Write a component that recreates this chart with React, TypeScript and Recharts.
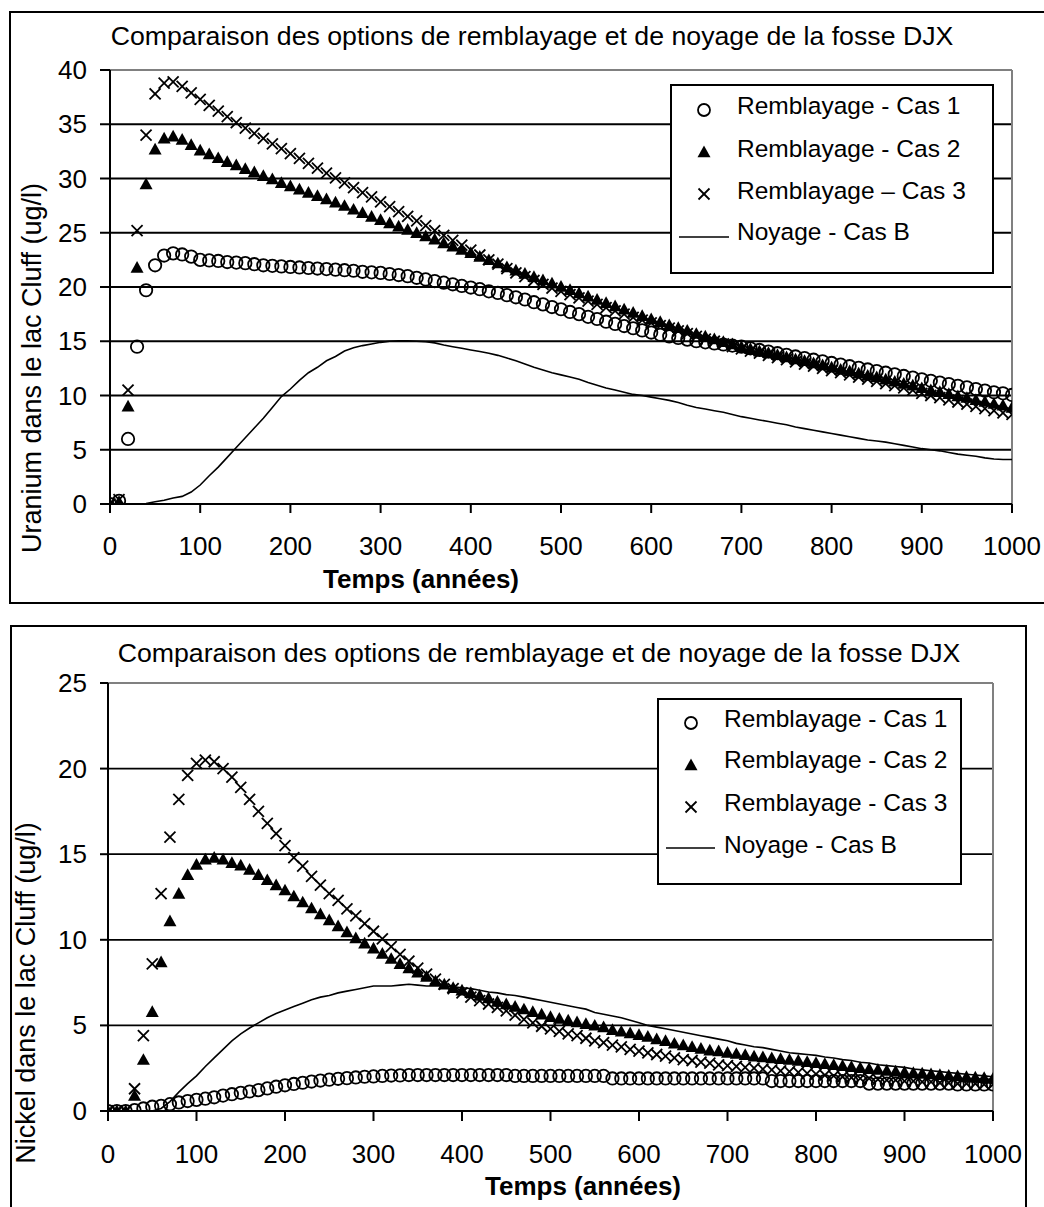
import React from 'react';
import {
  ComposedChart,
  Scatter,
  Line,
  XAxis,
  YAxis,
  CartesianGrid,
  ReferenceLine,
  Legend,
  Label,
} from 'recharts';

const FONT = '"Liberation Sans", Arial, Helvetica, sans-serif';

const TIME = [
  0, 10, 20, 30, 40, 50, 60, 70, 80, 90,
  100, 110, 120, 130, 140, 150, 160, 170, 180, 190,
  200, 210, 220, 230, 240, 250, 260, 270, 280, 290,
  300, 310, 320, 330, 340, 350, 360, 370, 380, 390,
  400, 410, 420, 430, 440, 450, 460, 470, 480, 490,
  500, 510, 520, 530, 540, 550, 560, 570, 580, 590,
  600, 610, 620, 630, 640, 650, 660, 670, 680, 690,
  700, 710, 720, 730, 740, 750, 760, 770, 780, 790,
  800, 810, 820, 830, 840, 850, 860, 870, 880, 890,
  900, 910, 920, 930, 940, 950, 960, 970, 980, 990,
  1000,
];

// Uranium (ug/l)
const U_CAS1 = [
  0, 0.3, 6.0, 14.5, 19.7, 22.0, 22.9, 23.1, 23.0, 22.8,
  22.5, 22.45, 22.4, 22.3, 22.25, 22.2, 22.1, 22.0, 21.95, 21.9,
  21.85, 21.8, 21.75, 21.7, 21.65, 21.6, 21.55, 21.5, 21.4, 21.35,
  21.3, 21.2, 21.1, 21.0, 20.85, 20.7, 20.55, 20.4, 20.25, 20.1,
  19.95, 19.8, 19.6, 19.45, 19.25, 19.05, 18.85, 18.6, 18.4, 18.15,
  17.95, 17.7, 17.5, 17.25, 17.05, 16.8, 16.6, 16.4, 16.2, 16.0,
  15.8, 15.6, 15.45, 15.3, 15.15, 15.0, 14.9, 14.8, 14.7, 14.6,
  14.5, 14.35, 14.2, 14.05, 13.9, 13.75, 13.6, 13.45, 13.3, 13.15,
  13.0, 12.85, 12.7, 12.55, 12.4, 12.25, 12.1, 11.95, 11.8, 11.65,
  11.5, 11.35, 11.2, 11.05, 10.9, 10.75, 10.6, 10.45, 10.3, 10.2,
  10.05,
];
const U_CAS2 = [
  0, 0.2, 9.0, 21.8, 29.5, 32.7, 33.7, 33.9, 33.6, 33.1,
  32.6, 32.25, 31.9, 31.55, 31.25, 30.9, 30.6, 30.25, 29.95, 29.6,
  29.3, 29.0, 28.7, 28.4, 28.1, 27.8, 27.5, 27.15, 26.85, 26.5,
  26.2, 25.9, 25.6, 25.3, 25.0, 24.7, 24.4, 24.05, 23.75, 23.45,
  23.15, 22.8, 22.5, 22.2, 21.85, 21.55, 21.25, 20.95, 20.65, 20.35,
  20.05, 19.75, 19.45, 19.15, 18.85, 18.55, 18.25, 17.95, 17.65, 17.35,
  17.05, 16.8, 16.5, 16.25, 16.0, 15.7, 15.45, 15.2, 14.95, 14.75,
  14.5, 14.3, 14.1, 13.95, 13.75, 13.55, 13.35, 13.2, 13.0, 12.8,
  12.6, 12.4, 12.25, 12.05, 11.85, 11.7, 11.5, 11.3, 11.1, 10.95,
  10.7, 10.5, 10.35, 10.15, 9.95, 9.8, 9.6, 9.45, 9.25, 9.1,
  8.9,
];
const U_CAS3 = [
  0, 0.4, 10.5, 25.2, 34.0, 37.8, 38.8, 38.9, 38.5, 37.9,
  37.3, 36.75, 36.2, 35.7, 35.15, 34.65, 34.15, 33.7, 33.2, 32.75,
  32.3, 31.85, 31.4, 30.95, 30.5, 30.05, 29.6, 29.15, 28.7, 28.3,
  27.85, 27.4, 26.95, 26.5, 26.1, 25.65, 25.2, 24.75, 24.3, 23.85,
  23.4, 22.95, 22.5, 22.1, 21.7, 21.3, 20.95, 20.6, 20.25, 19.9,
  19.6, 19.3, 19.0, 18.7, 18.4, 18.1, 17.8, 17.5, 17.2, 16.95,
  16.7, 16.45, 16.2, 15.95, 15.7, 15.45, 15.2, 15.0, 14.75, 14.5,
  14.3, 14.1, 13.9, 13.7, 13.5, 13.3, 13.1, 12.9, 12.7, 12.5,
  12.3, 12.1, 11.9, 11.7, 11.5, 11.3, 11.1, 10.9, 10.7, 10.5,
  10.2, 10.0, 9.8, 9.6, 9.4, 9.2, 9.0, 8.8, 8.6, 8.4,
  8.25,
];
const U_NOYAGE = [
  0, 0, 0, 0, 0.05, 0.2, 0.35, 0.55, 0.7, 1.1,
  1.75, 2.6, 3.4, 4.3, 5.2, 6.1, 7.0, 7.9, 8.9, 9.9,
  10.6, 11.4, 12.1, 12.6, 13.2, 13.6, 14.1, 14.4, 14.6, 14.75,
  14.9, 15.0, 15.05, 15.05, 15.0, 14.95, 14.85, 14.65, 14.5, 14.35,
  14.2, 14.05, 13.9, 13.7, 13.45, 13.2, 12.9, 12.6, 12.35, 12.1,
  11.9, 11.7, 11.5, 11.2, 10.95, 10.7, 10.5, 10.3, 10.1, 10.0,
  9.85, 9.7, 9.55, 9.35, 9.1, 8.9, 8.75, 8.6, 8.45, 8.25,
  8.05, 7.9, 7.75, 7.6, 7.45, 7.3, 7.1, 6.95, 6.8, 6.65,
  6.5, 6.35, 6.2, 6.05, 5.9, 5.8, 5.7, 5.55, 5.4, 5.25,
  5.1, 5.0, 4.9, 4.75, 4.6, 4.5, 4.4, 4.25, 4.15, 4.1,
  4.1,
];

// Nickel (ug/l)
const N_CAS1 = [
  0, 0, 0, 0.05, 0.15, 0.25, 0.3, 0.4, 0.5, 0.58,
  0.65, 0.72, 0.8, 0.9, 0.98, 1.06, 1.14, 1.22, 1.32, 1.42,
  1.5, 1.58, 1.65, 1.72, 1.78, 1.83, 1.88, 1.92, 1.96, 2.0,
  2.02, 2.05, 2.07, 2.08, 2.1, 2.1, 2.1, 2.1, 2.1, 2.1,
  2.1, 2.1, 2.1, 2.1, 2.1, 2.1, 2.05, 2.05, 2.05, 2.05,
  2.05, 2.05, 2.05, 2.05, 2.05, 2.05, 2.05, 1.9, 1.9, 1.9,
  1.9, 1.9, 1.9, 1.9, 1.9, 1.9, 1.9, 1.9, 1.9, 1.9,
  1.9, 1.9, 1.9, 1.9, 1.9, 1.75, 1.75, 1.75, 1.75, 1.75,
  1.75, 1.75, 1.75, 1.75, 1.75, 1.75, 1.6, 1.6, 1.6, 1.6,
  1.6, 1.6, 1.6, 1.6, 1.6, 1.6, 1.55, 1.55, 1.55, 1.55,
  1.55,
];
const N_CAS2 = [
  0, 0, 0, 0.9, 3.0, 5.8, 8.7, 11.1, 12.7, 13.8,
  14.4, 14.7, 14.8, 14.7, 14.5, 14.35, 14.1, 13.8, 13.5, 13.2,
  12.9, 12.55, 12.2, 11.85, 11.5, 11.15, 10.8, 10.45, 10.1, 9.8,
  9.5, 9.2, 8.9, 8.6, 8.35, 8.1, 7.85, 7.6, 7.4, 7.2,
  7.05, 6.9, 6.75, 6.6, 6.4, 6.25, 6.1, 5.95, 5.8, 5.65,
  5.5, 5.4, 5.3, 5.2, 5.1, 5.0, 4.9, 4.75, 4.65, 4.55,
  4.45, 4.35, 4.2, 4.1, 3.95, 3.85, 3.75, 3.65, 3.55, 3.5,
  3.42, 3.35, 3.28, 3.2, 3.15, 3.1, 3.05, 3.0, 2.95, 2.88,
  2.82, 2.76, 2.7, 2.64, 2.58, 2.52, 2.47, 2.42, 2.37, 2.32,
  2.28, 2.24, 2.2, 2.16, 2.12, 2.08, 2.04, 2.0, 1.97, 1.94,
  1.9,
];
const N_CAS3 = [
  0, 0, 0, 1.3, 4.4, 8.6, 12.7, 16.0, 18.2, 19.6,
  20.3, 20.5, 20.4, 20.0, 19.5, 18.9, 18.2, 17.5, 16.8, 16.2,
  15.5, 14.8, 14.3, 13.7, 13.2, 12.7, 12.3, 11.8, 11.4, 10.95,
  10.5, 10.05, 9.6, 9.15, 8.75, 8.35, 8.0, 7.7, 7.4, 7.15,
  6.9, 6.65, 6.45, 6.25, 6.05, 5.85, 5.6, 5.35, 5.15, 4.95,
  4.8, 4.65, 4.5, 4.4, 4.25, 4.1, 4.0, 3.85, 3.75, 3.6,
  3.5, 3.4, 3.3, 3.2, 3.1, 3.0, 2.95, 2.85, 2.8, 2.7,
  2.65, 2.6, 2.55, 2.5, 2.45, 2.4, 2.35, 2.3, 2.25, 2.2,
  2.15, 2.1, 2.05, 2.0, 1.95, 1.9, 1.9, 1.85, 1.8, 1.8,
  1.75, 1.75, 1.7, 1.7, 1.65, 1.65, 1.6, 1.6, 1.6, 1.55,
  1.55,
];
const N_NOYAGE = [
  0, 0, 0, 0, 0, 0, 0.15, 0.55, 1.1, 1.6,
  2.05, 2.6, 3.1, 3.6, 4.1, 4.5, 4.85, 5.15, 5.45, 5.7,
  5.9, 6.1, 6.3, 6.5, 6.65, 6.75, 6.9, 7.0, 7.1, 7.2,
  7.3, 7.3, 7.3, 7.35, 7.4, 7.35, 7.3, 7.3, 7.3, 7.25,
  7.2, 7.15, 7.05, 6.95, 6.9, 6.8, 6.75, 6.65, 6.55, 6.45,
  6.35, 6.25, 6.15, 6.05, 5.95, 5.75, 5.65, 5.55, 5.45, 5.3,
  5.15, 5.0, 4.9, 4.8, 4.7, 4.6, 4.5, 4.4, 4.3, 4.2,
  4.1, 3.95, 3.85, 3.75, 3.7, 3.6, 3.5, 3.4, 3.35, 3.3,
  3.25, 3.15, 3.1, 3.0, 2.95, 2.85, 2.8, 2.7, 2.65, 2.6,
  2.55, 2.45, 2.4, 2.35, 2.3, 2.25, 2.2, 2.15, 2.1, 2.05,
  2.0,
];

const X_TICKS = [0, 100, 200, 300, 400, 500, 600, 700, 800, 900, 1000];
const U_TICKS = [0, 5, 10, 15, 20, 25, 30, 35, 40];
const N_TICKS = [0, 5, 10, 15, 20, 25];

const TITLE = 'Comparaison des options de remblayage et de noyage de la fosse DJX';
const X_TITLE = 'Temps (années)';
const U_Y_TITLE = 'Uranium dans le lac Cluff (ug/l)';
const N_Y_TITLE = 'Nickel dans le lac Cluff (ug/l)';
const U_LEGEND = ['Remblayage - Cas 1', 'Remblayage - Cas 2', 'Remblayage \u2013 Cas 3', 'Noyage - Cas B'];
const N_LEGEND = ['Remblayage - Cas 1', 'Remblayage - Cas 2', 'Remblayage - Cas 3', 'Noyage - Cas B'];

function buildRows(c1: number[], c2: number[], c3: number[], nb: number[]) {
  return TIME.map((t, i) => ({ t, c1: c1[i], c2: c2[i], c3: c3[i], nb: nb[i] }));
}

const U_ROWS = buildRows(U_CAS1, U_CAS2, U_CAS3, U_NOYAGE);
const N_ROWS = buildRows(N_CAS1, N_CAS2, N_CAS3, N_NOYAGE);

const circleAt = (cx: number, cy: number, r: number) => (
  <circle cx={cx} cy={cy} r={r} fill="none" stroke="#000" strokeWidth={1.8} />
);
const triAt = (cx: number, cy: number, s: number) => (
  <polygon points={`${cx},${cy - s} ${cx - s},${cy + s * 0.8} ${cx + s},${cy + s * 0.8}`} fill="#000" />
);
const crossAt = (cx: number, cy: number, s: number) => (
  <g stroke="#000" strokeWidth={1.8}>
    <line x1={cx - s} y1={cy - s} x2={cx + s} y2={cy + s} />
    <line x1={cx - s} y1={cy + s} x2={cx + s} y2={cy - s} />
  </g>
);

const CircleShape = (p: any) => (p.cx == null ? <g /> : circleAt(p.cx, p.cy, 6.2));
const TriShape = (p: any) => (p.cx == null ? <g /> : triAt(p.cx, p.cy, 6.5));
const CrossShape = (p: any) => (p.cx == null ? <g /> : crossAt(p.cx, p.cy, 5.5));

const TICK_FONT = 26;

const XTick = (p: any) => (
  <text x={p.x} y={p.y} dy={17} textAnchor="middle" fontSize={TICK_FONT} fontFamily={FONT} fill="#000">
    {p.payload.value}
  </text>
);
const YTick = (p: any) => (
  <text x={p.x} y={p.y} dy={9} textAnchor="end" fontSize={TICK_FONT} fontFamily={FONT} fill="#000">
    {p.payload.value}
  </text>
);

type LegendGeom = {
  x: number; y: number; w: number; h: number;
  mx: number; rows: number[]; tx: number; base: number[]; lx1: number; lx2: number;
};

function LegendBox({ g, names }: { g: LegendGeom; names: string[] }) {
  return (
    <svg width={g.w} height={g.h} style={{ display: 'block' }}>
      <rect x={1} y={1} width={g.w - 2} height={g.h - 2} fill="#fff" stroke="#000" strokeWidth={2} />
      {circleAt(g.mx, g.rows[0], 6)}
      {triAt(g.mx, g.rows[1], 6.5)}
      {crossAt(g.mx, g.rows[2], 5.5)}
      <line x1={g.lx1} y1={g.rows[3]} x2={g.lx2} y2={g.rows[3]} stroke="#000" strokeWidth={1.6} />
      {names.map((n, i) => (
        <text key={n} x={g.tx} y={g.base[i]} fontSize={24.5} fontFamily={FONT} fill="#000">
          {n}
        </text>
      ))}
    </svg>
  );
}

type PanelProps = {
  rows: any[];
  height: number;
  margin: { top: number; right: number; bottom: number; left: number };
  yWidth: number;
  xHeight: number;
  yMax: number;
  yTicks: number[];
  yTickSize: number;
  xTickSize: number;
  yTitle: string;
  yTitlePos: { x: number; y: number };
  xTitlePos: { x: number; y: number };
  legend: LegendGeom;
  names: string[];
};

function Panel(p: PanelProps) {
  return (
    <ComposedChart width={1044} height={p.height} data={p.rows} margin={p.margin}>
      <CartesianGrid vertical={false} stroke="#000" strokeWidth={1.8} />
      <XAxis
        dataKey="t"
        type="number"
        domain={[0, 1000]}
        ticks={X_TICKS}
        interval={0}
        height={p.xHeight}
        tickSize={p.xTickSize}
        tickMargin={25}
        axisLine={{ stroke: '#000', strokeWidth: 2 }}
        tickLine={{ stroke: '#000', strokeWidth: 2 }}
        tick={XTick}
        allowDataOverflow
      >
        <Label
          content={() => (
            <text
              x={p.xTitlePos.x}
              y={p.xTitlePos.y}
              textAnchor="middle"
              fontSize={26}
              fontWeight="bold"
              fontFamily={FONT}
              fill="#000"
            >
              {X_TITLE}
            </text>
          )}
        />
      </XAxis>
      <YAxis
        type="number"
        domain={[0, p.yMax]}
        ticks={p.yTicks}
        interval={0}
        width={p.yWidth}
        tickSize={p.yTickSize}
        tickMargin={13}
        axisLine={{ stroke: '#000', strokeWidth: 2 }}
        tickLine={{ stroke: '#000', strokeWidth: 2 }}
        tick={YTick}
        allowDataOverflow
      >
        <Label
          content={() => (
            <text
              x={p.yTitlePos.x}
              y={p.yTitlePos.y}
              transform={`rotate(-90 ${p.yTitlePos.x} ${p.yTitlePos.y})`}
              textAnchor="middle"
              fontSize={27}
              fontFamily={FONT}
              fill="#000"
            >
              {p.yTitle}
            </text>
          )}
        />
      </YAxis>
      <ReferenceLine y={p.yMax} stroke="#808080" strokeWidth={2} />
      <ReferenceLine x={1000} stroke="#808080" strokeWidth={2} />
      <Scatter dataKey="c1" shape={CircleShape} isAnimationActive={false} />
      <Scatter dataKey="c2" shape={TriShape} isAnimationActive={false} />
      <Scatter dataKey="c3" shape={CrossShape} isAnimationActive={false} />
      <Line
        dataKey="nb"
        type="linear"
        dot={false}
        activeDot={false}
        stroke="#000"
        strokeWidth={1.6}
        isAnimationActive={false}
      />
      <Legend
        layout="vertical"
        align="center"
        verticalAlign="middle"
        wrapperStyle={{ position: 'absolute', left: p.legend.x, top: p.legend.y, width: p.legend.w, height: p.legend.h }}
        content={() => <LegendBox g={p.legend} names={p.names} />}
      />
    </ComposedChart>
  );
}

export default function App() {
  return (
    <div
      style={{
        position: 'relative',
        width: 1044,
        height: 1207,
        overflow: 'hidden',
        background: '#fff',
        fontFamily: FONT,
      }}
    >
      <style>{'body{margin:0;}'}</style>
      <div style={{ position: 'absolute', left: 0, top: 0 }}>
        <Panel
          rows={U_ROWS}
          height={600}
          margin={{ top: 70, right: 32, bottom: 0, left: 0 }}
          yWidth={110}
          xHeight={96}
          yMax={40}
          yTicks={U_TICKS}
          yTickSize={10}
          xTickSize={9}
          yTitle={U_Y_TITLE}
          yTitlePos={{ x: 41, y: 368 }}
          xTitlePos={{ x: 421, y: 588 }}
          legend={{
            x: 670, y: 84, w: 324, h: 190,
            mx: 34, rows: [26, 68, 110, 153], tx: 67, base: [30, 73, 115, 156], lx1: 9, lx2: 59,
          }}
          names={U_LEGEND}
        />
      </div>
      <div style={{ position: 'absolute', left: 0, top: 600 }}>
        <Panel
          rows={N_ROWS}
          height={607}
          margin={{ top: 83, right: 51, bottom: 0, left: 0 }}
          yWidth={108}
          xHeight={96}
          yMax={25}
          yTicks={N_TICKS}
          yTickSize={8}
          xTickSize={10}
          yTitle={N_Y_TITLE}
          yTitlePos={{ x: 35, y: 393 }}
          xTitlePos={{ x: 583, y: 595 }}
          legend={{
            x: 657, y: 698 - 600, w: 305, h: 187,
            mx: 34, rows: [25, 67, 109, 150], tx: 67, base: [29, 70, 113, 155], lx1: 9, lx2: 58,
          }}
          names={N_LEGEND}
        />
      </div>
      <svg
        width={1044}
        height={1207}
        style={{ position: 'absolute', left: 0, top: 0, pointerEvents: 'none' }}
      >
        <rect x={10} y={12} width={1100} height={591} fill="none" stroke="#000" strokeWidth={2} />
        <rect x={11} y={626} width={1015} height={700} fill="none" stroke="#000" strokeWidth={2} />
        <text x={532} y={45} textAnchor="middle" fontSize={26.7} fontFamily={FONT} fill="#000">
          {TITLE}
        </text>
        <text x={539} y={662} textAnchor="middle" fontSize={26.7} fontFamily={FONT} fill="#000">
          {TITLE}
        </text>
      </svg>
    </div>
  );
}
